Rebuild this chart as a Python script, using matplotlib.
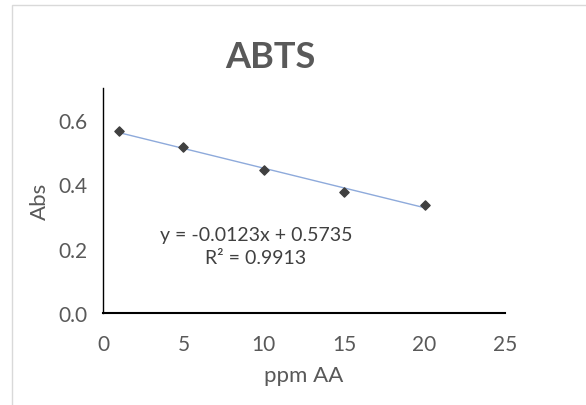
import numpy as np
import matplotlib.pyplot as plt
from matplotlib.patches import Rectangle

# 数据
ppm = [1, 5, 10, 15, 20]
absorb = [0.566, 0.517, 0.444, 0.375, 0.336]
slope = -0.0123
intercept = 0.5735
x_ticks = [0, 5, 10, 15, 20, 25]
y_ticks = [0.0, 0.2, 0.4, 0.6]

plt.rcParams['font.family'] = ['Lato', 'DejaVu Sans']
grey = '#595959'

fig = plt.figure(figsize=(5.86, 4.06), dpi=100)
W, H = 586, 406
ax = fig.add_axes([103 / W, 1 - 314 / H, (505 - 103) / W, (314 - 89) / H])

# 外框
fig.patches.append(Rectangle((12 / W, -0.01), 1, 1 - 6 / H + 0.01, transform=fig.transFigure,
                             fill=False, edgecolor='#d9d9d9', linewidth=1))

# 趋势线
xt = np.array([ppm[0], ppm[-1]])
ax.plot(xt, slope * xt + intercept, color='#8eaadb', linewidth=1, zorder=2)
ax.scatter(ppm, absorb, marker='D', s=22, color='#404040', zorder=3)

ax.set_xlim(0, 25)
ax.set_ylim(0, 0.7)
ax.set_xticks(x_ticks)
ax.set_yticks(y_ticks)
ax.set_yticklabels(['%.1f' % v for v in y_ticks])
ax.tick_params(length=0, labelsize=15, colors=grey, pad=11)
ax.tick_params(axis='x', pad=15)
for s in ['top', 'right']:
    ax.spines[s].set_visible(False)
ax.spines['left'].set_color('black')
ax.spines['left'].set_linewidth(1)
ax.spines['bottom'].set_color('black')
ax.spines['bottom'].set_linewidth(1.5)

ax.set_xlabel('ppm AA', fontsize=16, color=grey, labelpad=8)
ax.set_ylabel('Abs', fontsize=16, color=grey, labelpad=6)
fig.text(270 / W, 1 - 57 / H, 'ABTS', fontsize=26, fontweight='bold', color=grey,
         ha='center', va='center')

ax.text(9.5, 0.208, 'y = -0.0123x + 0.5735\nR² = 0.9913', fontsize=14,
        color='#404040', ha='center', va='center', linespacing=1.45)

fig.savefig('out.png', dpi=100)
